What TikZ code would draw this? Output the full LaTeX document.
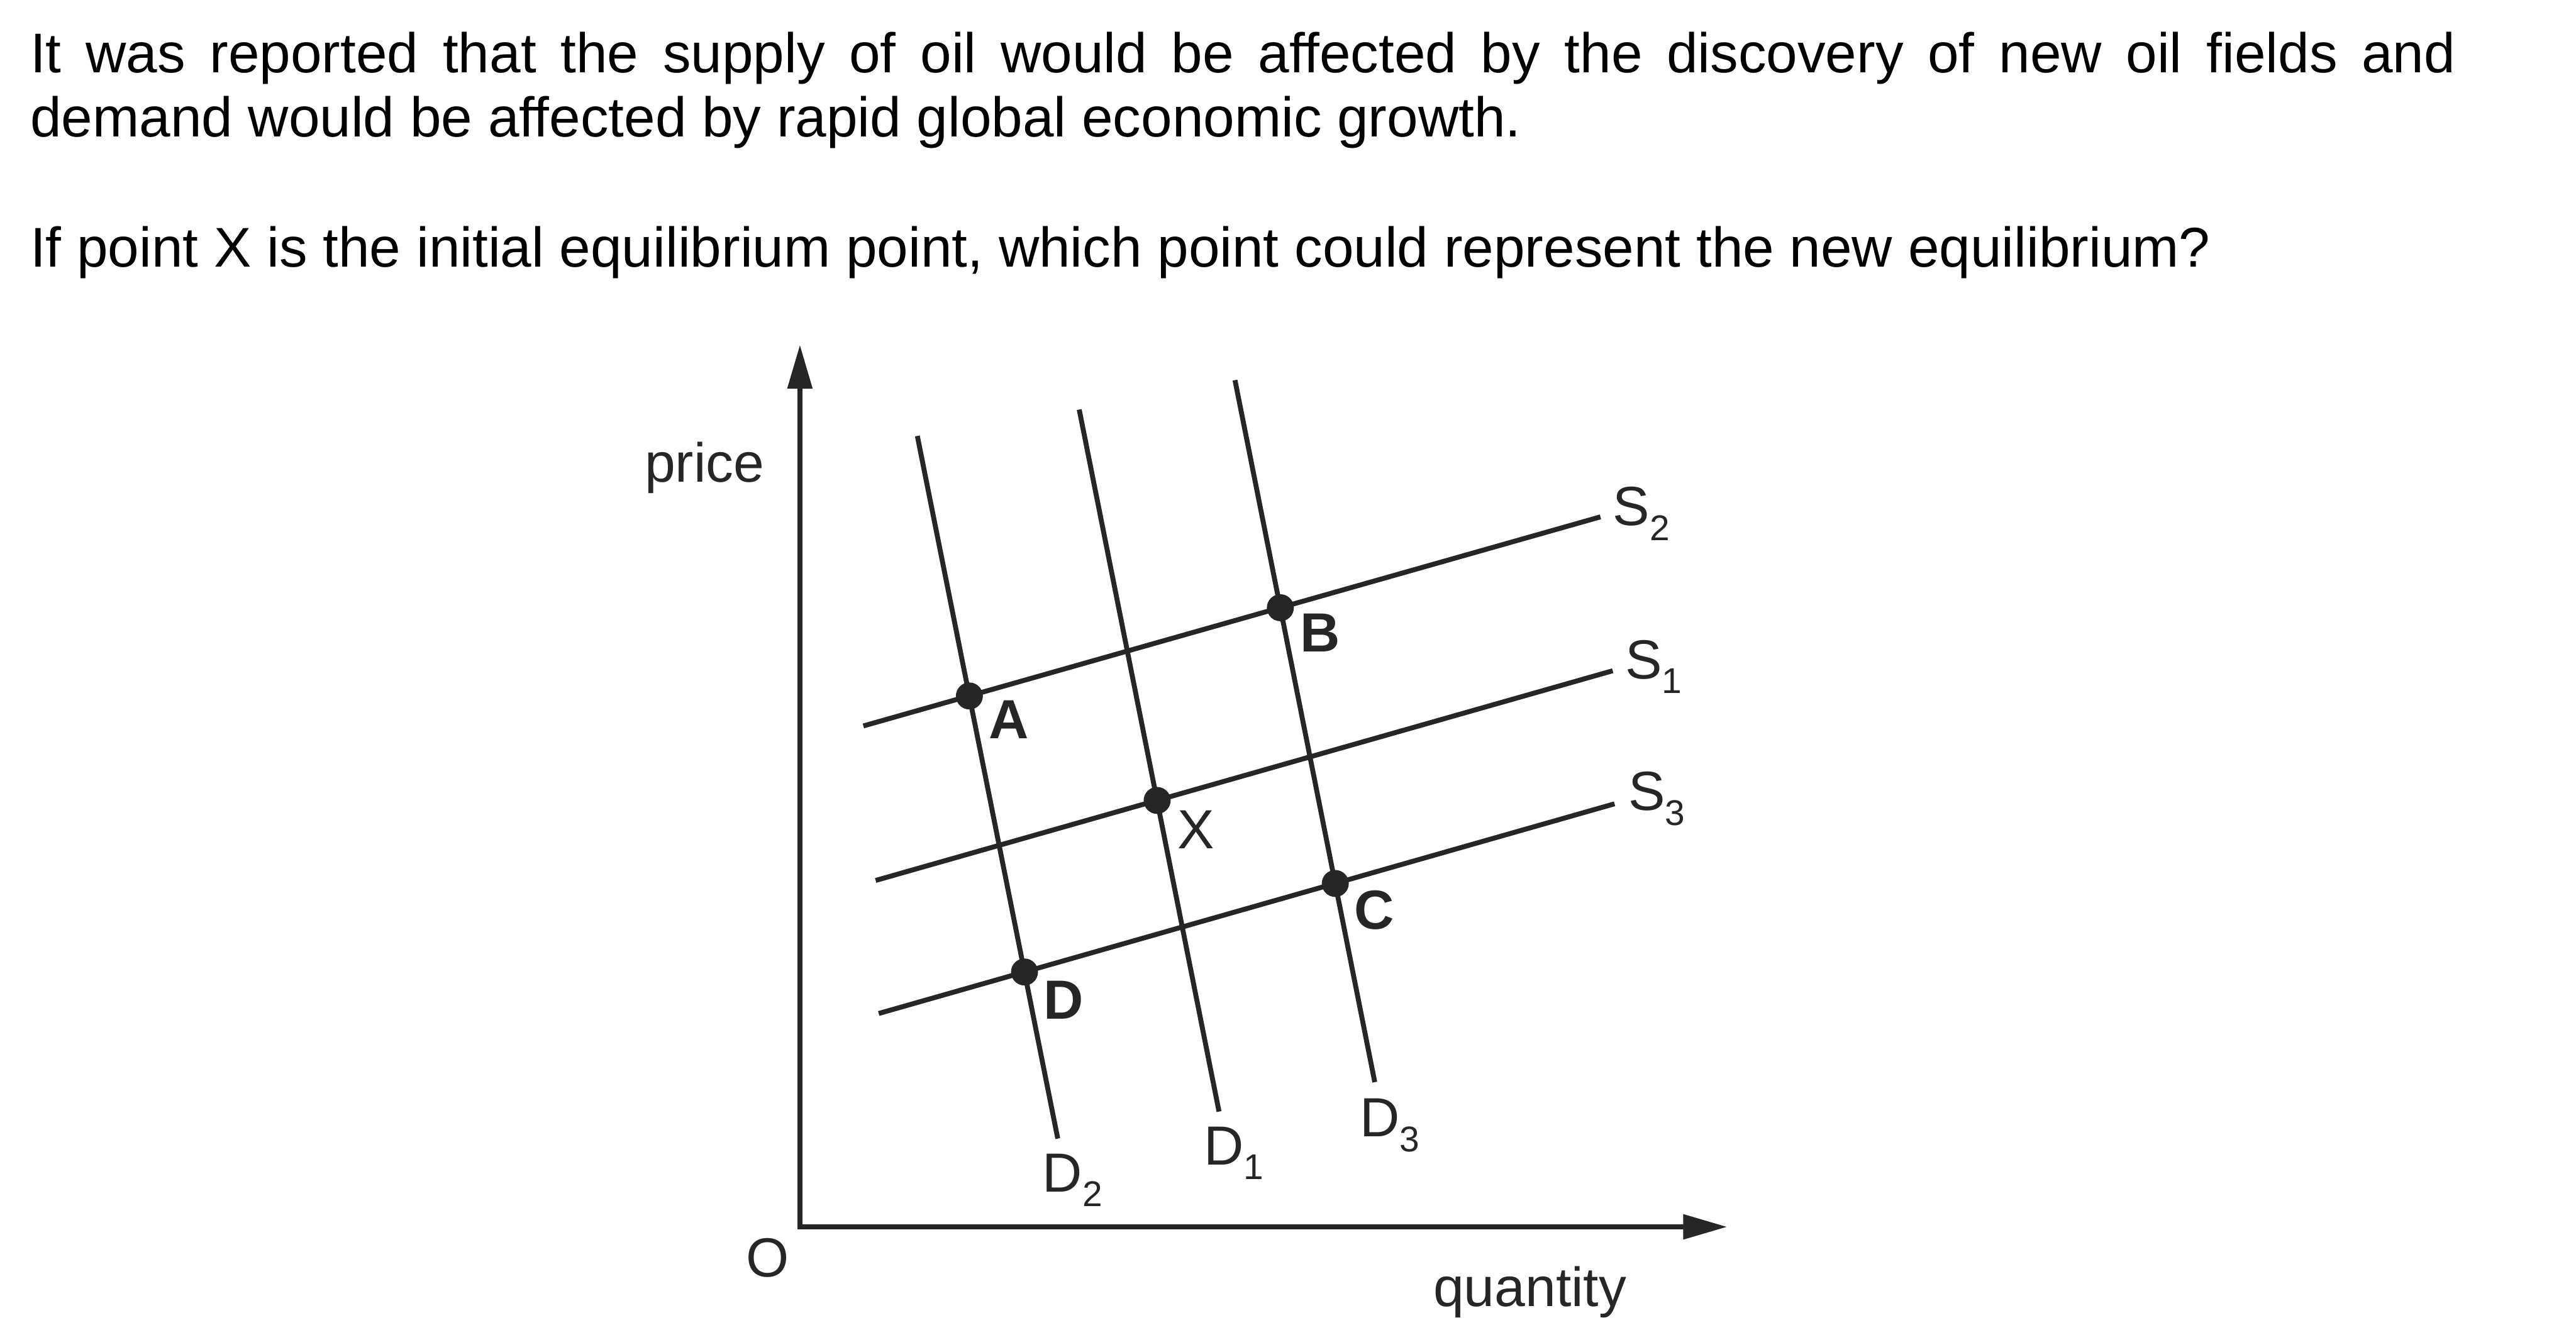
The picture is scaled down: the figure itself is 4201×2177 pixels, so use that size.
\documentclass[tikz,border=0pt]{standalone}
\usepackage{fontspec}
\setmainfont{Liberation Sans}
\usetikzlibrary{arrows.meta}
\definecolor{ink}{HTML}{262626}
\newcommand{\lowidx}[1]{\raisebox{-1.2mm}{\fontsize{8.3}{9}\selectfont #1}}
\tikzset{
  curve/.style={draw=ink, line width=0.4mm},
  axis/.style={draw=ink, line width=0.45mm,
    {Triangle[length=3.6mm, width=1.95mm]}-{Triangle[length=3.6mm, width=1.95mm]}},
  eqdot/.style={circle, fill=ink, inner sep=0pt, minimum size=2.2mm},
  lbl/.style={inner sep=0pt, anchor=base west, text=ink, font=\fontsize{12.8}{15}\selectfont},
  ptlbl/.style={lbl, font=\fontsize{12.8}{15}\selectfont\bfseries},
  question/.style={inner sep=0pt, anchor=base west, font=\fontsize{13}{15}\selectfont}
}

\begin{document}
\begin{tikzpicture}[x=0.05mm,y=-0.05mm]
  \useasboundingbox (0,0) rectangle (4201,2177);
  \node[question] (q1) at (48,118) {\makebox[197.75mm][s]{It was reported that the supply of oil would be affected by the discovery of new oil fields and}};
  \node[question] (q2) at (48,223) {demand would be affected by rapid global economic growth.};
  \node[question] (q3) at (48,435) {If point X is the initial equilibrium point, which point could represent the new equilibrium?};

  \coordinate (ytop) at (1304.5,562);
  \coordinate (orig) at (1304.5,2001);
  \coordinate (xend) at (2817,2001);
  \draw[axis] (ytop) -- (orig) -- (xend);
  \node[lbl] (price) at (1050,786) {price};
  \node[lbl, anchor=center] (O) at (1252,2052) {O};
  \node[lbl] (qty) at (2336,2131) {quantity};

  \coordinate (d2t) at (1496,711);  \coordinate (d2b) at (1725,1857);
  \coordinate (d1t) at (1760,668);  \coordinate (d1b) at (1988,1813);
  \coordinate (d3t) at (2014,620);  \coordinate (d3b) at (2242,1765);
  \coordinate (s2l) at (1408,1184); \coordinate (s2r) at (2610,843);
  \coordinate (s1l) at (1428,1436); \coordinate (s1r) at (2630,1094);
  \coordinate (s3l) at (1433,1653); \coordinate (s3r) at (2633,1311);
  \draw[curve] (d2t) -- (d2b);
  \draw[curve] (d1t) -- (d1b);
  \draw[curve] (d3t) -- (d3b);
  \draw[curve] (s2l) -- (s2r);
  \draw[curve] (s1l) -- (s1r);
  \draw[curve] (s3l) -- (s3r);

  \node[lbl] (D2) at (1699,1944) {D\lowidx{2}};
  \node[lbl] (D1) at (1962,1900) {D\lowidx{1}};
  \node[lbl] (D3) at (2216,1854) {D\lowidx{3}};
  \node[lbl] (S2) at (2629,857) {S\lowidx{2}};
  \node[lbl] (S1) at (2649,1107) {S\lowidx{1}};
  \node[lbl] (S3) at (2654,1322) {S\lowidx{3}};

  \node[eqdot] (A) at (intersection of d2t--d2b and s2l--s2r) {};
  \node[eqdot] (B) at (intersection of d3t--d3b and s2l--s2r) {};
  \node[eqdot] (X) at (intersection of d1t--d1b and s1l--s1r) {};
  \node[eqdot] (C) at (intersection of d3t--d3b and s3l--s3r) {};
  \node[eqdot] (D) at (intersection of d2t--d2b and s3l--s3r) {};
  \node[ptlbl] (Alab) at (1611,1205) {A};
  \node[ptlbl] (Blab) at (2119,1063) {B};
  \node[lbl] (Xlab) at (1919,1384) {X};
  \node[ptlbl] (Clab) at (2207,1515) {C};
  \node[ptlbl] (Dlab) at (1701,1662) {D};
\end{tikzpicture}
\end{document}
